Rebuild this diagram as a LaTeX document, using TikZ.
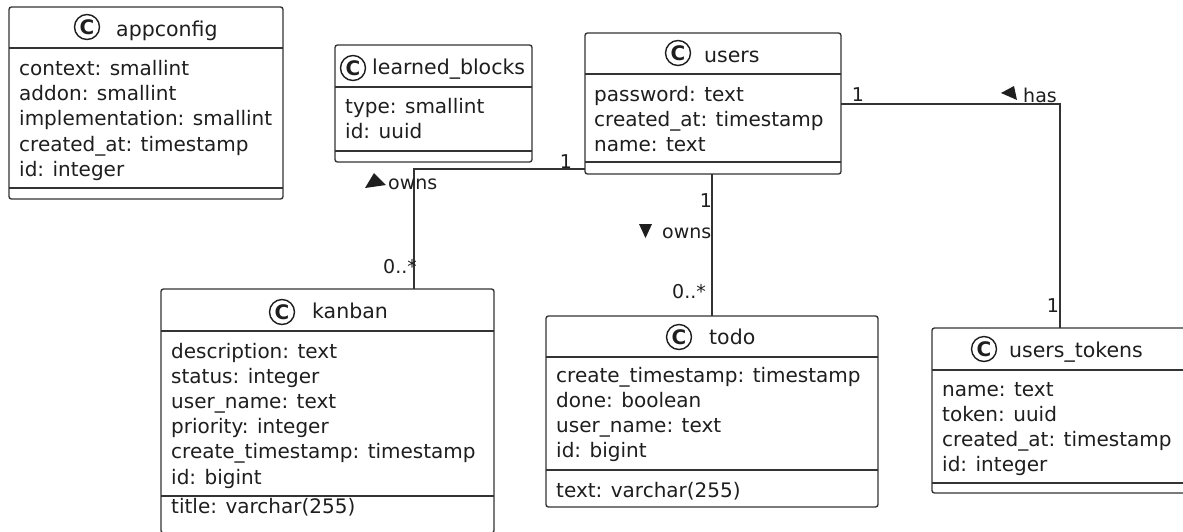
\documentclass[tikz,border=0pt]{standalone}
\usepackage{fontspec}
\setmainfont{DejaVu Sans}
\definecolor{linec}{HTML}{333333}
\definecolor{txtc}{HTML}{1E1E1E}
\begin{document}
\begin{tikzpicture}[x=1pt,y=-1pt,
  cls/.style={draw=linec, line width=1.35pt, rounded corners=2.5pt, fill=white,
              anchor=north west, inner sep=0pt, outer sep=0pt},
  sep/.style={draw=linec, line width=1.35pt},
  wire/.style={draw=linec, line width=1.35pt},
  ttl/.style={anchor=base west, inner sep=0pt, text=txtc, font=\fontsize{20.5}{24}\selectfont},
  attr/.style={anchor=base west, inner sep=0pt, text=txtc, font=\fontsize{20}{24}\selectfont},
  mult/.style={anchor=base, inner sep=0pt, text=txtc, font=\fontsize{19}{23}\selectfont},
  cicon/.style={circle, draw=txtc, line width=1.4pt, minimum size=25pt, inner sep=0pt,
                text=txtc, font=\fontsize{20}{22}\selectfont\bfseries},
  dirtri/.style={fill=txtc, draw=none}]
\useasboundingbox (0,0) rectangle (1183,531);
\clip (0,0) rectangle (1183,531);

% bend points of the associations
\coordinate (bendk) at (414,169);
\coordinate (bendt) at (1060,104);
\coordinate (colt) at (712,250);

% ---------- class boxes ----------
\node[cls, minimum width=274pt, minimum height=192pt] (appconfig) at (9,7) {};
\node[cls, minimum width=197pt, minimum height=117pt] (learned) at (335,45) {};
\node[cls, minimum width=256pt, minimum height=141pt] (users) at (585,33) {};
\node[cls, minimum width=333pt, minimum height=244pt] (kanban) at (161,289) {};
\node[cls, minimum width=332pt, minimum height=191pt] (todo) at (546,316) {};
\node[cls, minimum width=270pt, minimum height=165pt] (tokens) at (932,328) {};

% ---------- associations ----------
\draw[wire] (users.west |- bendk) -- (bendk) -- (kanban.north -| bendk);
\draw[wire] (users.south -| colt) -- (todo.north -| colt);
\draw[wire] (users.east |- bendt) -- (bendt) -- (tokens.north -| bendt);

% compartment separators
\draw[sep] ([yshift=-41pt]appconfig.north west) -- ([yshift=-41pt]appconfig.north east);
\draw[sep] ([yshift=-181pt]appconfig.north west) -- ([yshift=-181pt]appconfig.north east);
\draw[sep] ([yshift=-42pt]learned.north west) -- ([yshift=-42pt]learned.north east);
\draw[sep] ([yshift=-106pt]learned.north west) -- ([yshift=-106pt]learned.north east);
\draw[sep] ([yshift=-41pt]users.north west) -- ([yshift=-41pt]users.north east);
\draw[sep] ([yshift=-129pt]users.north west) -- ([yshift=-129pt]users.north east);
\draw[sep] ([yshift=-42pt]kanban.north west) -- ([yshift=-42pt]kanban.north east);
\draw[sep] ([yshift=-207pt]kanban.north west) -- ([yshift=-207pt]kanban.north east);
\draw[sep] ([yshift=-41pt]todo.north west) -- ([yshift=-41pt]todo.north east);
\draw[sep] ([yshift=-154pt]todo.north west) -- ([yshift=-154pt]todo.north east);
\draw[sep] ([yshift=-42pt]tokens.north west) -- ([yshift=-42pt]tokens.north east);
\draw[sep] ([yshift=-155pt]tokens.north west) -- ([yshift=-155pt]tokens.north east);

% ---------- titles ----------
\node[cicon] (appconfig-c) at (87,27) {C};
\node[ttl] (appconfig-t) at (116,36) {appconfig};
\node[cicon] (learned-c) at (353,68) {C};
\node[ttl] (learned-t) at (372,74) {learned\_blocks};
\node[cicon] (users-c) at (678,53) {C};
\node[ttl] (users-t) at (704,62) {users};
\node[cicon] (kanban-c) at (282,312) {C};
\node[ttl] (kanban-t) at (312,318) {kanban};
\node[cicon] (todo-c) at (679,337) {C};
\node[ttl] (todo-t) at (709,344) {todo};
\node[cicon] (tokens-c) at (984,349) {C};
\node[ttl] (tokens-t) at (1009,357) {users\_tokens};

% ---------- attributes ----------
\foreach \t [count=\i] in {context: smallint, addon: smallint, implementation: smallint,
    created\_at: timestamp, id: integer}
  \node[attr] (appconfig-a\i) at (19,{75.5+25.2*(\i-1)}) {\t};
\foreach \t [count=\i] in {type: smallint, id: uuid}
  \node[attr] (learned-a\i) at (345,{113+25.2*(\i-1)}) {\t};
\foreach \t [count=\i] in {password: text, created\_at: timestamp, name: text}
  \node[attr] (users-a\i) at (594,{101+25.2*(\i-1)}) {\t};
\foreach \t [count=\i] in {description: text, status: integer, user\_name: text,
    priority: integer, create\_timestamp: timestamp, id: bigint}
  \node[attr] (kanban-a\i) at (171,{358+25.2*(\i-1)}) {\t};
\node[attr] (kanban-m1) at (171,513) {title: varchar(255)};
\foreach \t [count=\i] in {create\_timestamp: timestamp, done: boolean, user\_name: text, id: bigint}
  \node[attr] (todo-a\i) at (556,{382+25.2*(\i-1)}) {\t};
\node[attr] (todo-m1) at (556,497) {text: varchar(255)};
\foreach \t [count=\i] in {name: text, token: uuid, created\_at: timestamp, id: integer}
  \node[attr] (tokens-a\i) at (942,{396+25.2*(\i-1)}) {\t};

% ---------- association labels ----------
\node[mult] (uk-one) at (566,168) {1};
\node[mult] (uk-many) at (400,273) {0..*};
\node[mult, anchor=base west] (uk-role) at (388,189) {owns};
\fill[dirtri] (365,188) -- (374,173) -- (386,185) -- cycle;

\node[mult] (ut-one) at (706,207) {1};
\node[mult] (ut-many) at (689,298) {0..*};
\node[mult, anchor=base west] (ut-role) at (662,238) {owns};
\fill[dirtri] (639,224) -- (652,224) -- (645.5,238) -- cycle;

\node[mult] (uu-one) at (858,101) {1};
\node[mult] (uu-other) at (1053,312) {1};
\node[mult, anchor=base west] (uu-role) at (1023,102) {has};
\fill[dirtri] (1001,93) -- (1014,86) -- (1017,100) -- cycle;
\end{tikzpicture}
\end{document}
